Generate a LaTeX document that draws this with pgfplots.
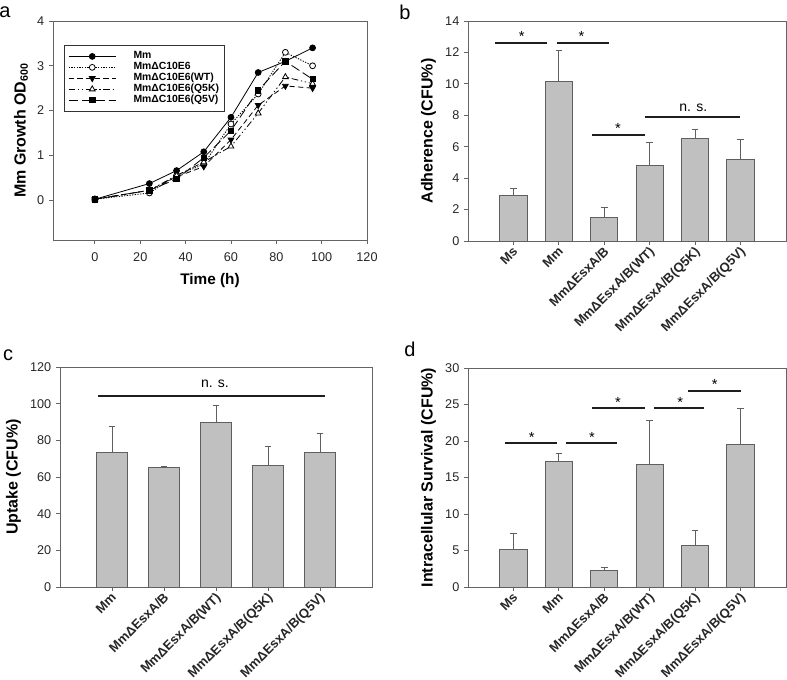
\documentclass[border=0pt]{standalone}
\usepackage{pgfplots}
\pgfplotsset{compat=1.18}
\usepackage{fontspec}
\setmainfont{Liberation Sans}
\definecolor{barfill}{RGB}{192,192,192}
\definecolor{baredge}{RGB}{95,95,95}
\definecolor{axgray}{RGB}{100,100,100}
\definecolor{sig}{RGB}{30,30,30}

\pgfplotsset{
  common/.style={
    scale only axis,
    axis line style={axgray, line width=0.7pt},
    tick style={axgray, line width=0.7pt},
    tick align=outside,
    xtick pos=bottom, ytick pos=left,
    major tick length=3pt,
    tick label style={font=\fontsize{9.5}{10}\selectfont, text=black!85},
    /pgf/number format/assume math mode=true,
    label style={font=\bfseries\fontsize{12}{13}\selectfont},
    clip=false,
  },
  barax/.style={
    common,
    ybar, bar width=0.6,
    xtick=data,
    xticklabel style={rotate=45, anchor=north east, font=\bfseries\fontsize{9.8}{11}\selectfont, inner sep=1pt, yshift=1.5pt},
    ymin=0,
  },
  barplot/.style={
    fill=barfill, draw=baredge, line width=0.7pt,
    error bars/.cd, y dir=plus, y explicit,
    error bar style={baredge, line width=0.7pt},
    error mark options={baredge, mark size=2.5pt, line width=0.7pt, rotate=90},
  },
}

\begin{document}
\begin{tikzpicture}
\path[use as bounding box] (0,0) rectangle (590.25pt,509.25pt);

% ---------------- panel a ----------------
\begin{axis}[common,
  at={(39.75pt,329.25pt)}, anchor=south west,
  width=235.5pt, height=164.25pt,
  xmin=-18.5, xmax=120, ymin=-0.89, ymax=4,
  xtick={0,20,...,120}, ytick={0,1,2,3,4},
  xlabel={Time (h)}, ylabel={Mm Growth OD\textsubscript{600}},
  xlabel style={font=\bfseries\fontsize{11.5}{12}\selectfont, yshift=-2pt},
  xticklabel style={yshift=-3pt},
  legend style={at={(0.035,0.89)}, anchor=north west, draw=black!80, line width=0.5pt,
    font=\bfseries\fontsize{7.8}{8}\selectfont, cells={anchor=west}, row sep=-0.3pt,
    nodes={text height=5pt, text depth=1.5pt, inner sep=1pt},
    inner xsep=3pt, inner ysep=4pt,
    /tikz/every odd column/.append style={column sep=12pt},
    /tikz/every even column/.append style={column sep=5pt}},
  legend image code/.code={\draw[mark repeat=2,mark phase=2] plot coordinates {(0cm,0cm) (0.62cm,0cm) (1.24cm,0cm)};},
]
\addplot[black, line width=0.6pt, mark=*, mark size=2.2pt, mark options={solid, fill=black}]
  coordinates {(0,0.02) (24,0.37) (36,0.66) (48,1.08) (60,1.85) (72,2.85) (84,3.1) (96,3.4)};
\addlegendentry{Mm}
\addplot[black, line width=0.6pt, dash pattern=on 1pt off 1pt, mark=*, mark size=2.2pt, mark options={solid, fill=white}]
  coordinates {(0,0.02) (24,0.16) (36,0.55) (48,0.8) (60,1.7) (72,2.37) (84,3.3) (96,3.0)};
\addlegendentry{MmΔC10E6}
\addplot[black, line width=0.6pt, dash pattern=on 4pt off 2.5pt, mark=triangle*, mark size=2.5pt, mark options={solid, fill=black, rotate=180}]
  coordinates {(0,0.02) (24,0.22) (36,0.52) (48,0.75) (60,1.35) (72,2.12) (84,2.55) (96,2.5)};
\addlegendentry{MmΔC10E6(WT)}
\addplot[black, line width=0.6pt, dash pattern=on 5pt off 2pt on 1pt off 2pt on 1pt off 2pt, mark=triangle*, mark size=2.5pt, mark options={solid, fill=white}]
  coordinates {(0,0.02) (24,0.22) (36,0.55) (48,0.85) (60,1.2) (72,1.94) (84,2.75) (96,2.6)};
\addlegendentry{MmΔC10E6(Q5K)}
\addplot[black, line width=0.6pt, dash pattern=on 7pt off 3pt, mark=square*, mark size=2pt, mark options={solid, fill=black}]
  coordinates {(0,0.02) (24,0.22) (36,0.47) (48,0.95) (60,1.55) (72,2.45) (84,3.1) (96,2.7)};
\addlegendentry{MmΔC10E6(Q5V)}
\end{axis}

% ---------------- panel b ----------------
\begin{axis}[barax,
  at={(351pt,328.5pt)}, anchor=south west,
  width=238.5pt, height=165pt,
  xmin=-1, xmax=6, ymax=14,
  ytick={0,2,...,14},
  xticklabels={Ms,Mm,MmΔEsxA/B,{MmΔEsxA/B(WT)},{MmΔEsxA/B(Q5K)},{MmΔEsxA/B(Q5V)}},
  ylabel={Adherence (CFU\%)},
]
\addplot[barplot] coordinates {
  (0,2.88) +- (0,0.45)
  (1,10.15) +- (0,1.95)
  (2,1.5) +- (0,0.65)
  (3,4.8) +- (0,1.5)
  (4,6.55) +- (0,0.55)
  (5,5.2) +- (0,1.25)
};
\draw[sig, line width=1.4pt] (axis cs:-0.4,12.6) -- (axis cs:0.73,12.6);
\draw[sig, line width=1.4pt] (axis cs:0.96,12.6) -- (axis cs:2.1,12.6);
\draw[sig, line width=1.4pt] (axis cs:1.73,6.75) -- (axis cs:2.9,6.75);
\draw[sig, line width=1.4pt] (axis cs:2.9,7.9) -- (axis cs:4.98,7.9);
\node[font=\fontsize{11}{12}\selectfont] at (axis cs:0.18,13.0) {*};
\node[font=\fontsize{11}{12}\selectfont] at (axis cs:1.5,13.0) {*};
\node[font=\fontsize{11}{12}\selectfont] at (axis cs:2.3,7.15) {*};
\node[font=\fontsize{10.5}{12}\selectfont] at (axis cs:3.96,8.45) {n. s.};
\end{axis}

% ---------------- panel c ----------------
\begin{axis}[barax,
  at={(45pt,69pt)}, anchor=south west,
  width=234pt, height=165pt,
  xmin=-1, xmax=5, ymax=120,
  ytick={0,20,...,120},
  xticklabels={Mm,MmΔEsxA/B,{MmΔEsxA/B(WT)},{MmΔEsxA/B(Q5K)},{MmΔEsxA/B(Q5V)}},
  ylabel={Uptake (CFU\%)},
]
\addplot[barplot] coordinates {
  (0,73.5) +- (0,14)
  (1,65) +- (0,1)
  (2,89.8) +- (0,9.2)
  (3,66.5) +- (0,10)
  (4,73.3) +- (0,10.5)
};
\draw[sig, line width=1.4pt] (axis cs:-0.27,104.3) -- (axis cs:4.1,104.3);
\node[font=\fontsize{10.5}{12}\selectfont] at (axis cs:1.98,111) {n. s.};
\end{axis}

% ---------------- panel d ----------------
\begin{axis}[barax,
  at={(351pt,69pt)}, anchor=south west,
  width=238.5pt, height=164.25pt,
  xmin=-1, xmax=6, ymax=30,
  ytick={0,5,...,30},
  xticklabels={Ms,Mm,MmΔEsxA/B,{MmΔEsxA/B(WT)},{MmΔEsxA/B(Q5K)},{MmΔEsxA/B(Q5V)}},
  ylabel={Intracellular Survival (CFU\%)},
]
\addplot[barplot] coordinates {
  (0,5.1) +- (0,2.3)
  (1,17.2) +- (0,1.1)
  (2,2.2) +- (0,0.5)
  (3,16.8) +- (0,6.0)
  (4,5.7) +- (0,2.0)
  (5,19.5) +- (0,5.0)
};
\draw[sig, line width=1.4pt] (axis cs:-0.18,19.7) -- (axis cs:0.96,19.7);
\draw[sig, line width=1.4pt] (axis cs:1.16,19.7) -- (axis cs:2.29,19.7);
\draw[sig, line width=1.4pt] (axis cs:1.73,24.5) -- (axis cs:2.9,24.5);
\draw[sig, line width=1.4pt] (axis cs:3.1,24.5) -- (axis cs:4.2,24.5);
\draw[sig, line width=1.4pt] (axis cs:3.85,26.9) -- (axis cs:5.0,26.9);
\node[font=\fontsize{11}{12}\selectfont] at (axis cs:0.4,20.5) {*};
\node[font=\fontsize{11}{12}\selectfont] at (axis cs:1.73,20.5) {*};
\node[font=\fontsize{11}{12}\selectfont] at (axis cs:2.3,25.3) {*};
\node[font=\fontsize{11}{12}\selectfont] at (axis cs:3.67,25.3) {*};
\node[font=\fontsize{11}{12}\selectfont] at (axis cs:4.43,27.7) {*};
\end{axis}

% panel letters
\node[font=\fontsize{15}{16}\selectfont] at (3.75pt,500.25pt) {a};
\node[font=\fontsize{15}{16}\selectfont] at (303.75pt,500.25pt) {b};
\node[font=\fontsize{15}{16}\selectfont] at (6pt,243pt) {c};
\node[font=\fontsize{15}{16}\selectfont] at (307.5pt,247.5pt) {d};
\end{tikzpicture}
\end{document}
